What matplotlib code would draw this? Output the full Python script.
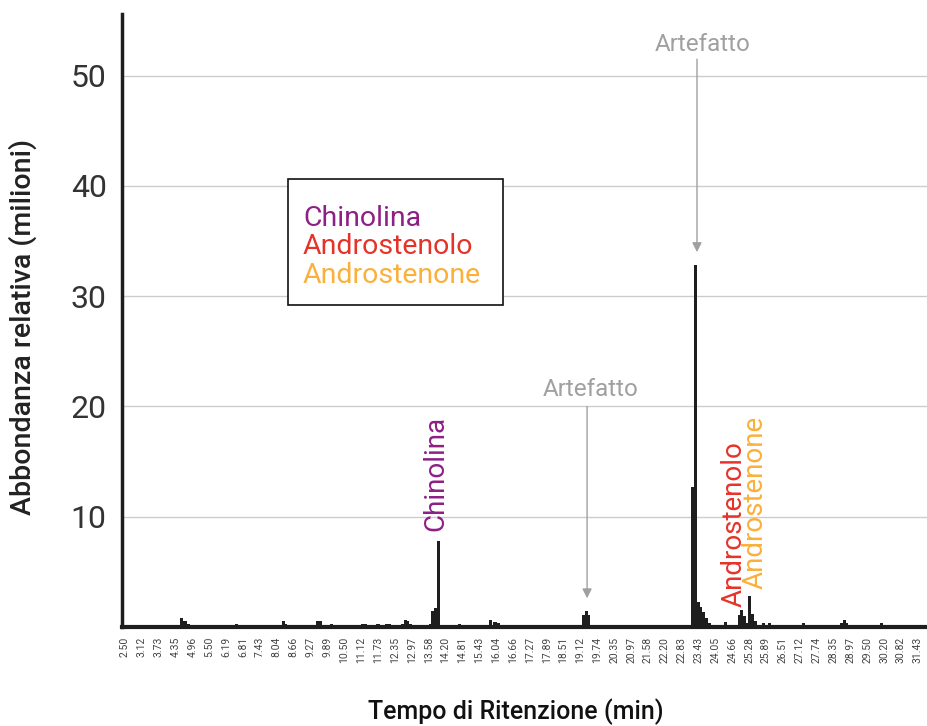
import numpy as np
import matplotlib
import matplotlib.pyplot as plt
from matplotlib.patches import Rectangle

matplotlib.use("Agg")
plt.rcParams["font.family"] = ["Roboto", "DejaVu Sans"]

# retention time (min) and relative abundance (millions)
rt = [4.56, 4.69, 4.80, 6.57, 8.28, 8.37, 9.54, 9.63, 10.03, 11.15, 11.26,
      11.73, 12.04, 12.13, 12.62, 12.73, 12.82, 12.92, 13.64, 13.73, 13.83,
      13.95, 14.70, 15.85, 16.00, 16.12, 19.23, 19.33, 19.42, 23.22, 23.32,
      23.41, 23.49, 23.59, 23.71, 23.84, 24.41, 24.93, 25.01, 25.10, 25.17,
      25.30, 25.41, 25.52, 25.81, 26.01, 27.25, 28.66, 28.76, 28.84, 30.09]
abund = [0.8, 0.55, 0.3, 0.3, 0.5, 0.3, 0.55, 0.55, 0.3, 0.3, 0.3,
         0.3, 0.3, 0.25, 0.3, 0.6, 0.55, 0.3, 0.3, 1.45, 1.7,
         7.8, 0.3, 0.6, 0.45, 0.35, 1.1, 1.45, 1.1, 12.7, 32.8,
         2.3, 1.85, 1.4, 0.8, 0.4, 0.45, 1.1, 1.5, 1.0, 0.4,
         2.8, 1.2, 0.5, 0.4, 0.4, 0.4, 0.4, 0.6, 0.4, 0.4]

tick_labels = ["2.50", "3.12", "3.73", "4.35", "4.96", "5.50", "6.19", "6.81",
               "7.43", "8.04", "8.66", "9.27", "9.89", "10.50", "11.12", "11.73",
               "12.35", "12.97", "13.58", "14.20", "14.81", "15.43", "16.04",
               "16.66", "17.27", "17.89", "18.51", "19.12", "19.74", "20.35",
               "20.97", "21.58", "22.20", "22.83", "23.43", "24.05", "24.66",
               "25.28", "25.89", "26.51", "27.12", "27.74", "28.35", "28.97",
               "29.50", "30.20", "30.82", "31.43"]

yticks = [10, 20, 30, 40, 50]

compounds = ["Chinolina", "Androstenolo", "Androstenone"]
colors = ["#8e1f85", "#e63329", "#fbb03b"]
peak_rt = [13.85, 24.72, 25.50]
label_y = [8.7, 1.8, 3.4]

fig = plt.figure(figsize=(9.28, 7.26), dpi=100)
ax = fig.add_axes([0.1315, 0.1364, 0.8685, 0.8443])

ax.bar(rt, abund, width=0.115, color="#1e1e1e", zorder=3)

# axes
ax.set_xlim(2.39, 31.80)
ax.set_ylim(0, 55.6)
ax.set_xticks(np.linspace(2.50, 31.43, len(tick_labels)))
ax.set_xticklabels(tick_labels, rotation=90, fontsize=7.5, color="#444444")
ax.set_yticks(yticks)
ax.set_yticklabels([str(v) for v in yticks], fontsize=23, color="#333333")
ax.tick_params(axis="both", length=0)
ax.tick_params(axis="y", pad=11)
ax.tick_params(axis="x", pad=7)

ax.grid(True, axis="y", color="#cccccc", linewidth=1, zorder=0)
for s in ["top", "right"]:
    ax.spines[s].set_visible(False)
ax.spines["left"].set_linewidth(2.5)
ax.spines["bottom"].set_linewidth(3)
ax.spines["left"].set_color("#1e1e1e")
ax.spines["bottom"].set_color("#1e1e1e")

ax.set_ylabel("Abbondanza relativa (milioni)", fontsize=20.5, fontweight="medium",
              color="#222222")
ax.yaxis.set_label_coords(-0.106, 0.49)
ax.set_xlabel("Tempo di Ritenzione (min)", fontsize=18, fontweight="medium",
              color="#111111")
ax.xaxis.set_label_coords(0.488, -0.117)

# compound labels on peaks
for name, c, x, y in zip(compounds, colors, peak_rt, label_y):
    ax.text(x, y, name, rotation=90, ha="center", va="bottom", fontsize=20,
            color=c, zorder=4)

# artefacts
arrow = dict(arrowstyle="-|>", color="#a0a0a0", lw=1, mutation_scale=14,
             shrinkA=0, shrinkB=0)
ax.annotate("", xy=(23.37, 34.0), xytext=(23.37, 51.5), arrowprops=arrow)
ax.text(23.59, 52.8, "Artefatto", ha="center", va="center", fontsize=17.5,
        color="#a0a0a0")
ax.annotate("", xy=(19.36, 2.6), xytext=(19.36, 20.0), arrowprops=arrow)
ax.text(19.50, 21.5, "Artefatto", ha="center", va="center", fontsize=17.5,
        color="#a0a0a0")

# legend box
ax.add_patch(Rectangle((0.206, 0.525), 0.267, 0.206, transform=ax.transAxes,
                       facecolor="white", edgecolor="#111111", lw=1.2, zorder=5))
for i, (name, c) in enumerate(zip(compounds, colors)):
    ax.text(0.2246, 0.667 - i * 0.047, name, transform=ax.transAxes, fontsize=20.5,
            color=c, va="center", ha="left", zorder=6)

fig.savefig("out.png", dpi=100)
plt.close(fig)
